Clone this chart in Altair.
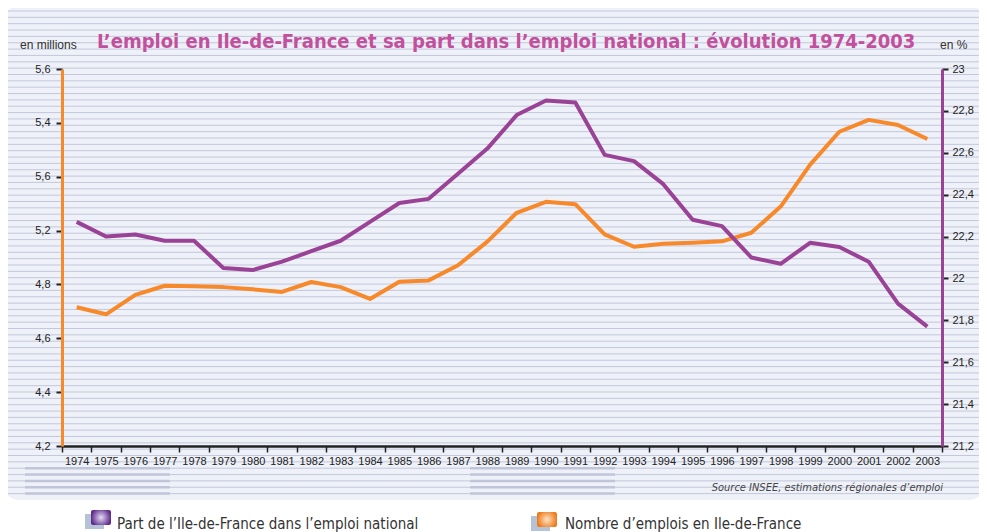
import altair as alt
import pandas as pd
import numpy as np

# ---------------- data ----------------
years = list(range(1974, 2004))
# Nombre d'emplois en Ile-de-France (millions, left axis)
emplois = [4.715, 4.689, 4.761, 4.795, 4.793, 4.790, 4.782, 4.772, 4.809, 4.790,
           4.746, 4.810, 4.815, 4.871, 4.959, 5.066, 5.107, 5.098, 4.986, 4.940,
           4.951, 4.955, 4.960, 4.992, 5.089, 5.244, 5.367, 5.411, 5.392, 5.340]
# Part de l'Ile-de-France dans l'emploi national (%, right axis)
part = [22.27, 22.20, 22.21, 22.18, 22.18, 22.05, 22.04, 22.08, 22.13, 22.18,
        22.27, 22.36, 22.38, 22.50, 22.62, 22.78, 22.85, 22.84, 22.59, 22.56,
        22.45, 22.28, 22.25, 22.10, 22.07, 22.17, 22.15, 22.08, 21.88, 21.77]

left_ticks = [4.2, 4.4, 4.6, 4.8, 5.0, 5.2, 5.4, 5.6]
left_tick_labels = ["4,2", "4,4", "4,6", "4,8", "5,2", "5,6", "5,4", "5,6"]
right_ticks = [21.2, 21.4, 21.6, 21.8, 22.0, 22.2, 22.4, 22.6, 22.8, 23.0]

title_text = "L\u2019emploi en Ile-de-France et sa part dans l\u2019emploi national : \u00e9volution 1974-2003"
legend_part = "Part de l\u2019Ile-de-France dans l\u2019emploi national"
legend_emplois = "Nombre d\u2019emplois en Ile-de-France"
source_text = "Source INSEE, estimations r\u00e9gionales d\u2019emploi"

# ---------------- styles ----------------
ORANGE = "#f7892b"
PURPLE = "#9a4396"
TITLE_COL = "#c2509c"
PANEL = "#eef1f7"
STRIPE = "#c3c7dc"
DARK = "#222222"
NARROW = "Liberation Sans Narrow, DejaVu Sans Condensed, sans-serif"
SANS = "Liberation Sans, Arial, sans-serif"

W, H = 880, 377

df = pd.DataFrame({"year": years, "emplois": emplois, "part": part})
one = pd.DataFrame({"a": [0]})

# pixel-space scale for decorations
PIX = alt.Scale(domain=[0, H], range=[0, H], zero=False, nice=False)

panel = alt.Chart(one).mark_rect(color=PANEL, cornerRadius=16, clip=False).encode(
    x=alt.value(-59), x2=alt.value(923), y=alt.value(-63), y2=alt.value(431)
)
stripes_df = pd.DataFrame({"py": np.arange(-58, 429, 6.35)})
stripes = alt.Chart(stripes_df).mark_rule(color=STRIPE, strokeWidth=1, clip=False).encode(
    y=alt.Y("py:Q", scale=PIX, axis=None), x=alt.value(-59), x2=alt.value(923)
)
blk = stripes_df[stripes_df.py >= 396]


def block(x1, x2):
    return alt.Chart(blk).mark_rule(color="#c0c5da", strokeWidth=2.5, clip=False).encode(
        y=alt.Y("py:Q", scale=PIX, axis=None), x=alt.value(x1), x2=alt.value(x2))


left_expr = "".join(
    f"abs(datum.value-{v})<0.001 ? '{l}' : " for v, l in zip(left_ticks, left_tick_labels)
) + "''"

x_axis = alt.Axis(title=None, labelAngle=0, tickBand="extent", domainColor=DARK, domainWidth=2.5,
                  tickColor=DARK, tickSize=6, tickWidth=1.5, labelFont=SANS, labelFontSize=11,
                  labelColor=DARK, labelPadding=3, grid=False, zindex=2)
x_enc = alt.X("year:O", scale=alt.Scale(paddingInner=0, paddingOuter=0), axis=x_axis)

orange = alt.Chart(df).mark_line(color=ORANGE, strokeWidth=4, strokeJoin="round").encode(
    x=x_enc,
    y=alt.Y("emplois:Q", scale=alt.Scale(domain=[4.2, 5.6], nice=False, zero=False),
            axis=alt.Axis(orient="left", values=left_ticks, labelExpr=left_expr, title=None,
                          domainColor=ORANGE, domainWidth=3, tickColor=DARK, tickWidth=2,
                          tickSize=6, labelFont=SANS, labelFontSize=11, labelColor=DARK,
                          labelPadding=6, grid=False, zindex=2))
)
purple = alt.Chart(df).mark_line(color=PURPLE, strokeWidth=4, strokeJoin="round").encode(
    x=x_enc,
    y=alt.Y("part:Q", scale=alt.Scale(domain=[21.2, 23.0], nice=False, zero=False),
            axis=alt.Axis(orient="right", values=right_ticks,
                          labelExpr="replace(format(datum.value, '.1~f'), '.', ',')", title=None,
                          domainColor=PURPLE, domainWidth=3, tickColor=DARK, tickWidth=2,
                          tickSize=6, labelFont=SANS, labelFontSize=11, labelColor=DARK,
                          labelPadding=4, grid=False, zindex=2))
)


def txt(x, y, s, **kw):
    return alt.Chart(one).mark_text(clip=False, **kw).encode(
        x=alt.value(x), y=alt.value(y), text=alt.value(s))


title = txt(35, -21, title_text, align="left", baseline="alphabetic", font=NARROW,
            fontSize=20, fontWeight="bold", color=TITLE_COL)
unit_l = txt(-42, -20, "en millions", align="left", baseline="alphabetic", font=SANS,
             fontSize=12, color="#333333")
unit_r = txt(878, -20, "en %", align="left", baseline="alphabetic", font=SANS,
             fontSize=12, color="#333333")
source = txt(881, 422, source_text, align="right", baseline="alphabetic", font=NARROW,
             fontSize=11, fontStyle="italic", color="#444444")


def icon(x, y, c_in, c_out):
    shadow = alt.Chart(one).mark_rect(color="#a8b8cf", opacity=0.85, clip=False).encode(
        x=alt.value(x - 6), x2=alt.value(x + 13), y=alt.value(y + 4), y2=alt.value(y + 19))
    main = alt.Chart(one).mark_rect(
        clip=False, cornerRadius=2,
        color=alt.Gradient(gradient="radial", stops=[alt.GradientStop(offset=0, color=c_in),
                                                     alt.GradientStop(offset=1, color=c_out)])
    ).encode(x=alt.value(x), x2=alt.value(x + 20), y=alt.value(y), y2=alt.value(y + 15))
    return shadow + main


leg1_icon = icon(29, 441, "#e6dcf5", "#5e2a8c")
leg2_icon = icon(475, 443, "#fde4c0", "#ee7a1c")
leg1 = txt(55, 460, legend_part, align="left", baseline="alphabetic", font=NARROW,
           fontSize=15, color="#333333")
leg2 = txt(503, 460, legend_emplois, align="left", baseline="alphabetic", font=NARROW,
           fontSize=15, color="#333333")

chart = alt.layer(
    panel, stripes, block(-37, 108), block(408, 553), orange, purple,
    title, unit_l, unit_r, source, leg1_icon, leg2_icon, leg1, leg2
).resolve_scale(y="independent").properties(
    width=W, height=H,
    autosize=alt.AutoSizeParams(type="none"),
    padding={"left": 54, "top": 61, "right": 37, "bottom": 86},
    background="white",
).configure_view(stroke=None)

chart.save("out.html", embed_options={"renderer": "svg", "actions": False})
